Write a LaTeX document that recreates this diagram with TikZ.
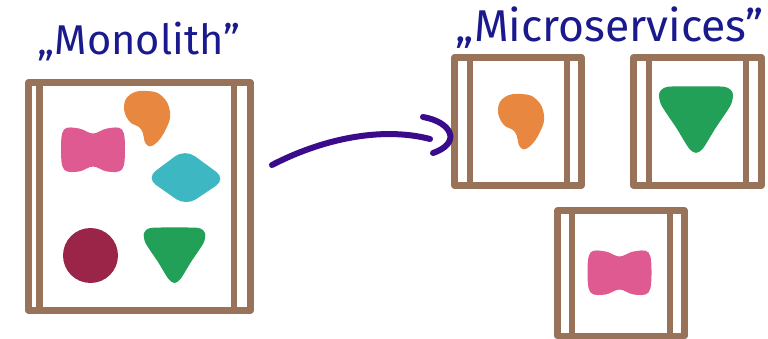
\documentclass[tikz,border=0pt]{standalone}
\usepackage{graphicx}
\usepackage{fontspec}
\setmainfont{Fira Sans}
\definecolor{boxbrown}{HTML}{98735A}
\definecolor{titleblue}{HTML}{1A1A8E}
\definecolor{arrowpurple}{HTML}{3A0C8C}
\definecolor{blobOrange}{HTML}{E8873F}
\definecolor{blobPink}{HTML}{DE5A91}
\definecolor{blobCyan}{HTML}{3DB7C1}
\definecolor{blobMaroon}{HTML}{9B2449}
\definecolor{blobGreen}{HTML}{22A057}
\tikzset{
  svcbox/.style={draw=boxbrown, line width=6.5pt, rectangle, inner sep=0pt, outer sep=0pt, line join=round},
  rail/.style={draw=boxbrown, line width=6.5pt, line cap=round},
  arrowline/.style={draw=arrowpurple, line width=6pt, line cap=round},
  titlelabel/.style={text=titleblue, inner sep=0pt},
  orangeblob/.pic={\fill[blobOrange] plot[smooth cycle, tension=0.75] coordinates
     {(-23,-12) (-16,-24) (0,-27) (15,-22) (23,-6) (19,11) (8,26) (-1,26) (-6,11) (-18,3)};},
  pinkblob/.pic={\fill[blobPink] plot[smooth cycle, tension=0.6] coordinates
     {(-29,-20) (-14,-21) (0,-16) (14,-21) (29,-20) (32,0) (29,20) (14,22) (0,17) (-14,22) (-29,20) (-32,0)};},
  cyanblob/.pic={\fill[blobCyan, rounded corners=12pt] (-40,0) -- (-1,-29) -- (40,1) -- (0,28) -- cycle;},
  greenblob/.pic={\fill[blobGreen] plot[smooth cycle, tension=0.45] coordinates
     {(-24,-28) (0,-28.5) (24,-28) (30.5,-23) (29,-13) (16.5,6) (6,23) (0,27) (-6,23) (-16.5,6) (-29,-13) (-30.5,-23)};},
}
\begin{document}
\begin{tikzpicture}[x=1pt,y=-1pt]
\useasboundingbox (0,0) rectangle (768,339);

% titles
\node[titlelabel] (tMono) at (139,42) {\resizebox{202pt}{!}{„Monolith”}};
\node[titlelabel] (tMicro) at (610,28) {\resizebox{308pt}{!}{„Microservices”}};

% monolith box
\node[svcbox, minimum width=222pt, minimum height=228pt] (mono) at (139.5,196.5) {};
\draw[rail] ([xshift=11pt]mono.north west) -- ([xshift=11pt]mono.south west);
\draw[rail] ([xshift=-16.5pt]mono.north east) -- ([xshift=-16.5pt]mono.south east);
\pic at (147,118) {orangeblob};
\pic at (93,149.5) {pinkblob};
\pic at (186,178) {cyanblob};
\fill[blobMaroon] (90.5,255.5) circle[radius=27.5];
\pic at (174.5,256) {greenblob};

% microservice boxes
\node[svcbox, minimum width=127pt, minimum height=128pt] (ms1) at (518,121.5) {};
\draw[rail] ([xshift=15.5pt]ms1.north west) -- ([xshift=15.5pt]ms1.south west);
\draw[rail] ([xshift=-14.5pt]ms1.north east) -- ([xshift=-14.5pt]ms1.south east);
\pic at (521,121) {orangeblob};

\node[svcbox, minimum width=128pt, minimum height=128pt] (ms2) at (697.5,121.5) {};
\draw[rail] ([xshift=15.5pt]ms2.north west) -- ([xshift=15.5pt]ms2.south west);
\draw[rail] ([xshift=-15.5pt]ms2.north east) -- ([xshift=-15.5pt]ms2.south east);
\pic[scale=1.2] at (696,120.5) {greenblob};

\node[svcbox, minimum width=127pt, minimum height=125.5pt] (ms3) at (621,273.25) {};
\draw[rail] ([xshift=14.5pt]ms3.north west) -- ([xshift=14.5pt]ms3.south west);
\draw[rail] ([xshift=-14.5pt]ms3.north east) -- ([xshift=-14.5pt]ms3.south east);
\pic at (619.5,272.5) {pinkblob};

% arrow
\coordinate (arrS) at (272,165);
\coordinate (arrE) at (430,139);
\coordinate (hookA) at (423,117);
\coordinate (hookB) at (433,153);
\draw[arrowline] (arrS) .. controls (320,140) and (380,126) .. (arrE);
\draw[arrowline] (hookA) .. controls (452,122) and (462,143) .. (hookB);
\end{tikzpicture}
\end{document}
